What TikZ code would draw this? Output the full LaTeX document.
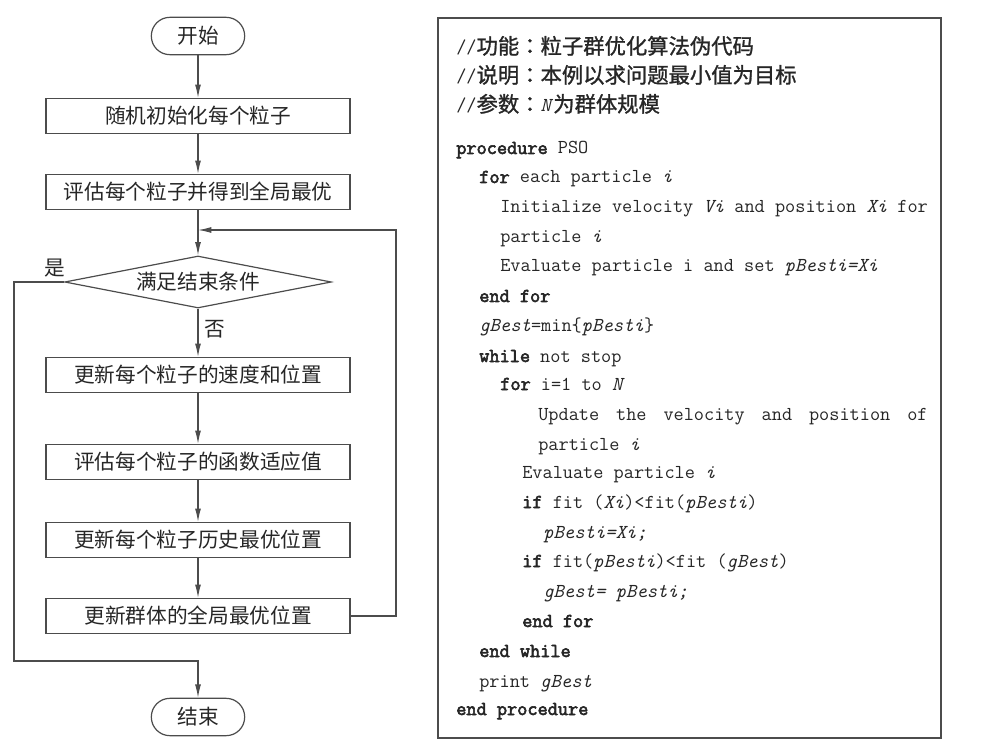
\documentclass[tikz,border=0pt]{standalone}
\usepackage{fontspec}
\setmonofont{Latin Modern Mono}[BoldFont={Latin Modern Mono},BoldFeatures={FakeBold=3}]
\newfontfamily\cjk{Noto Sans CJK SC}
\newfontfamily\cjkb{Noto Sans CJK SC}[FakeBold=1.2]
\newfontfamily\cjkcolon{Noto Sans CJK TC}[FakeBold=1.5]
\usetikzlibrary{shapes.geometric,arrows.meta}
\newcommand{\kwd}[1]{\textbf{#1}}
\newcommand{\zh}[1]{{\cjkb\fontsize{16}{18}\selectfont #1}}
\newcommand{\zhcolon}{{\cjkcolon\fontsize{16}{18}\selectfont ：}}
\tikzstyle{terminal}=[draw=black!70,line width=0.9pt,rounded corners=13.9pt,minimum width=70pt,minimum height=28pt,inner sep=0pt,font=\cjk\fontsize{15.5}{18}\selectfont,text=black!85]
\tikzstyle{process}=[draw=black!70,line width=0.9pt,minimum width=228pt,minimum height=26.3pt,inner sep=0pt,font=\cjk\fontsize{15.5}{18}\selectfont,text=black!85]
\tikzstyle{decision}=[diamond,draw=black!70,line width=0.9pt,aspect=5.1,minimum width=200pt,minimum height=39pt,inner sep=0pt,font=\cjk\fontsize{15.5}{18}\selectfont,text=black!85]
\tikzstyle{answer}=[inner sep=0pt,font=\cjk\fontsize{15.5}{18}\selectfont,text=black!85]
\tikzstyle{flow}=[draw=black!70,line width=0.9pt,-{Latex[length=10pt,width=4.5pt]}]
\tikzstyle{code}=[anchor=base west,inner sep=0pt,font=\ttfamily\fontsize{14.8}{17}\selectfont,text=black!85]

\begin{document}
\begin{tikzpicture}[x=0.75pt,y=-0.75pt]
\useasboundingbox (0,0) rectangle (996,745);
% flowchart
\node[terminal] at (198, 36) (start) {开始};
\node[process] at (198, 116) (init) {随机初始化每个粒子};
\node[process] at (198, 192) (eval) {评估每个粒子并得到全局最优};
\node[decision] at (198, 282) (cond) {满足结束条件};
\node[process] at (198, 375) (upd) {更新每个粒子的速度和位置};
\node[process] at (198, 462) (fit) {评估每个粒子的函数适应值};
\node[process] at (198, 540) (pbest) {更新每个粒子历史最优位置};
\node[process] at (198, 616) (gbest) {更新群体的全局最优位置};
\node[terminal] at (198, 717) (stop) {结束};
\node[answer] at (55, 268) (yes) {是};
\node[answer] at (215, 329) (no) {否};
\coordinate (join) at (198, 230);
\coordinate (back) at (396, 230);
\coordinate (left) at (14, 661);
\draw[flow] (start) -- (init);
\draw[flow] (init) -- (eval);
\draw[flow] (eval) -- (cond);
\draw[flow] (cond) -- (upd);
\draw[flow] (upd) -- (fit);
\draw[flow] (fit) -- (pbest);
\draw[flow] (pbest) -- (gbest);
\draw[flow] (gbest.east) -| (back) -- (join);
\draw[flow] (cond.west) -| (left) -| (stop.north);
% pseudo code
\draw[black!70,line width=0.9pt] (438, 18) rectangle (941, 738);
\node[code] at (456, 54) (c1) {//\zh{功能}\zhcolon\zh{粒子群优化算法伪代码}};
\node[code] at (456, 83) (c2) {//\zh{说明}\zhcolon\zh{本例以求问题最小值为目标}};
\node[code] at (456, 112) (c3) {//\zh{参数}\zhcolon\textit{N}\zh{为群体规模}};
\node[code] at (456, 154) (c4) {\kwd{procedure} PSO};
\node[code] at (479, 183) (c5) {\kwd{for} each particle \textit{i}};
\node[code] at (500, 213) (c6) {Initialize velocity \textit{Vi} and position \textit{Xi} for};
\node[code] at (500, 243) (c7) {particle \textit{i}};
\node[code] at (500, 272) (c8) {Evaluate particle i and set \textit{pBesti=Xi}};
\node[code] at (479, 302) (c9) {\kwd{end for}};
\node[code] at (479, 332) (c10) {\textit{gBest}=min\{\textit{pBesti}\}};
\node[code] at (479, 362) (c11) {\kwd{while} not stop};
\node[code] at (500, 390) (c12) {\kwd{for} i=1 to \textit{N}};
\node[code] at (538, 420) (c13) {\hbox to 292pt{Update\hfill the\hfill velocity\hfill and\hfill position\hfill of}};
\node[code] at (538, 450) (c14) {particle \textit{i}};
\node[code] at (522, 478) (c15) {Evaluate particle \textit{i}};
\node[code] at (522, 508) (c16) {\kwd{if} fit (\textit{Xi})<fit(\textit{pBesti})};
\node[code] at (543, 538) (c17) {\textit{pBesti=Xi;}};
\node[code] at (522, 567) (c18) {\kwd{if} fit(\textit{pBesti})<fit (\textit{gBest})};
\node[code] at (543, 597) (c19) {\textit{gBest= pBesti;}};
\node[code] at (522, 627) (c20) {\kwd{end for}};
\node[code] at (479, 657) (c21) {\kwd{end while}};
\node[code] at (479, 687) (c22) {print \textit{gBest}};
\node[code] at (456, 715) (c23) {\kwd{end procedure}};
\end{tikzpicture}
\end{document}
